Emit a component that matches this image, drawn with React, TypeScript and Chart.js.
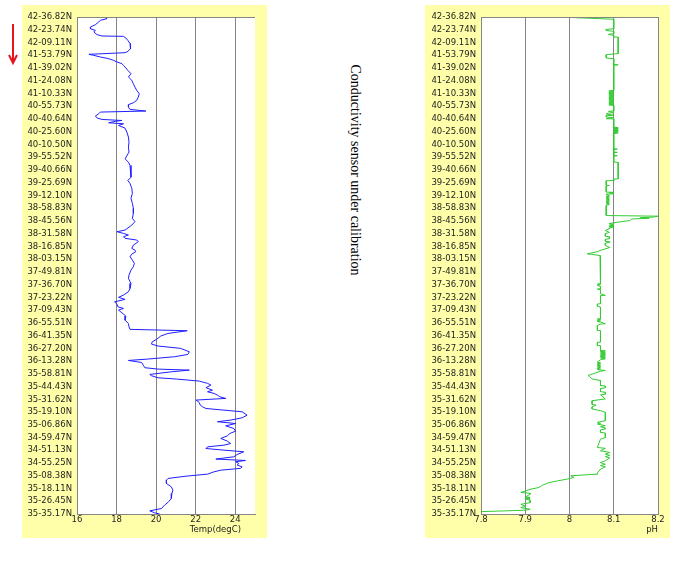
import React, { useEffect, useRef } from "react";
import { Chart, registerables } from "chart.js";

Chart.register(...registerables);

const latLabels = [
  "42-36.82N", "42-23.74N", "42-09.11N", "41-53.79N", "41-39.02N", "41-24.08N", "41-10.33N", "40-55.73N",
  "40-40.64N", "40-25.60N", "40-10.50N", "39-55.52N", "39-40.66N", "39-25.69N", "39-12.10N", "38-58.83N",
  "38-45.56N", "38-31.58N", "38-16.85N", "38-03.15N", "37-49.81N", "37-36.70N", "37-23.22N", "37-09.43N",
  "36-55.51N", "36-41.35N", "36-27.20N", "36-13.28N", "35-58.81N", "35-44.43N", "35-31.62N", "35-19.10N",
  "35-06.86N", "34-59.47N", "34-51.13N", "34-55.25N", "35-08.38N", "35-18.11N", "35-26.45N", "35-35.17N",
];

const tempTicks = [16, 18, 20, 22, 24];
const phTicks = [7.8, 7.9, 8.0, 8.1, 8.2];

// Temperature profile: position along the track (label index) and value (degC)
const tempDepth = [
  0, 0.02, 0.13, 0.26, 0.39, 0.6, 0.79, 0.92, 1.05, 1.18, 1.39, 1.49, 1.52, 1.65, 1.83, 2.09, 2.23, 2.49, 2.7, 2.8,
  2.93, 3.01, 3.14, 3.27, 3.4, 3.53, 3.66, 3.8, 3.93, 4.19, 4.45, 4.71, 4.97, 5.24, 5.5, 5.76, 6.02, 6.28, 6.54, 6.73,
  6.88, 7.07, 7.25, 7.38, 7.46, 7.59, 7.77, 7.93, 8.04, 8.12, 8.19, 8.3, 8.38, 8.51, 8.72, 9.03, 9.42, 9.82, 10.21, 10.6,
  11.13, 11.39, 11.65, 12.17, 12.57, 12.83, 13.06, 13.45, 13.84, 14.23, 14.62, 15.02, 15.41, 15.8, 16.06, 16.33, 16.72, 16.85, 16.98, 17.11,
  17.24, 17.37, 17.5, 17.63, 17.9, 18.16, 18.29, 18.42, 18.6, 18.81, 19.07, 19.33, 19.6, 19.86, 20.25, 20.51, 20.91, 21.3, 21.56, 21.82,
  22.0, 22.16, 22.35, 22.53, 22.74, 22.87, 23.0, 23.21, 23.47, 23.79, 24.05, 24.31, 24.51, 24.62, 24.83, 25.04, 25.3, 25.49, 25.67, 25.82,
  26.0, 26.27, 26.48, 26.66, 26.84, 26.95, 27.11, 27.32, 27.52, 27.63, 27.71, 27.84, 28.05, 28.15, 28.31, 28.41, 28.57, 28.75, 28.88, 29.09,
  29.28, 29.41, 29.54, 29.67, 29.8, 29.93, 30.06, 30.25, 30.45, 30.59, 30.72, 30.85, 30.98, 31.24, 31.45, 31.63, 31.76, 31.9, 32.08, 32.29,
  32.5, 32.68, 32.87, 33.07, 33.28, 33.47, 33.6, 33.73, 33.86, 33.99, 34.12, 34.33, 34.51, 34.69, 34.8, 34.9, 35.03, 35.16, 35.3, 35.42,
  35.56, 35.69, 35.87, 36.03, 36.21, 36.34, 36.6, 36.87, 37.13, 37.39, 37.78, 38.04, 38.3, 38.57, 38.75, 38.91, 39.0,
];
const tempValue = [
  16.0, 17.4, 17.52, 17.18, 17.1, 16.93, 16.68, 16.68, 16.93, 16.85, 17.02, 17.27, 18.35, 18.47, 18.57, 18.68, 18.73, 18.68, 18.57, 18.43,
  16.6, 16.85, 17.18, 17.6, 17.85, 18.02, 18.27, 18.35, 18.43, 18.57, 18.73, 18.6, 18.77, 18.85, 18.93, 19.02, 19.15, 19.1, 19.02, 18.85,
  18.6, 18.6, 18.68, 19.48, 17.18, 17.1, 16.93, 17.02, 17.27, 18.27, 17.93, 17.6, 18.35, 18.1, 18.43, 18.52, 18.6, 18.63, 18.6, 18.63,
  18.43, 18.6, 18.68, 18.73, 18.73, 18.57, 18.68, 18.77, 18.8, 18.73, 18.8, 18.85, 18.85, 18.8, 18.93, 18.77, 18.43, 18.02, 18.35, 18.6,
  18.35, 18.43, 19.02, 19.1, 18.85, 18.77, 18.93, 18.97, 18.77, 18.68, 18.8, 18.9, 18.85, 18.73, 18.63, 18.6, 18.73, 18.68, 18.6, 18.35,
  18.1, 18.43, 17.9, 18.02, 18.07, 18.35, 18.1, 18.27, 18.47, 18.43, 18.6, 18.63, 18.68, 21.57, 20.6, 20.23, 20.02, 19.8, 19.77, 20.1,
  21.23, 21.68, 21.6, 20.93, 19.6, 18.6, 19.27, 19.35, 19.43, 20.1, 21.68, 20.77, 19.68, 19.77, 20.1, 21.02, 22.18, 22.6, 22.77, 22.52,
  22.85, 22.6, 22.93, 23.1, 23.22, 23.52, 22.02, 22.18, 22.23, 22.35, 22.52, 23.43, 24.35, 24.6, 24.35, 23.77, 23.1, 24.02, 23.52, 23.93,
  24.02, 23.73, 23.6, 23.27, 23.6, 23.77, 23.43, 22.6, 22.52, 23.43, 24.43, 24.1, 23.93, 23.02, 24.52, 24.02, 24.18, 24.1, 24.35, 24.27,
  23.27, 22.93, 22.6, 21.52, 20.6, 20.52, 20.52, 20.77, 20.85, 20.8, 20.77, 20.63, 20.43, 20.27, 19.68, 19.93, 20.18,
];

// pH profile
const phDepth = [
  0, 0.18, 0.92, 0.97, 1.05, 1.13, 1.31, 1.36, 1.44, 1.57, 1.58, 2.88, 2.9, 2.96, 3.22, 3.27, 3.74, 3.75, 3.78, 5.76,
  5.8, 5.85, 5.9, 5.95, 6.0, 6.05, 6.1, 6.15, 6.2, 6.25, 6.3, 6.35, 6.4, 6.45, 6.5, 6.55, 6.6, 6.65, 6.7, 6.75,
  6.8, 6.85, 6.9, 6.94, 7.38, 7.4, 7.5, 7.55, 7.62, 7.7, 7.75, 7.85, 7.9, 7.98, 8.0, 8.64, 8.68, 8.72, 8.76, 8.8,
  8.84, 8.88, 8.92, 8.96, 9.0, 9.05, 9.1, 9.16, 10.34, 10.36, 10.4, 10.6, 10.62, 10.66, 10.86, 10.88, 10.92, 11.39, 11.4, 12.7,
  12.72, 12.83, 12.85, 13.2, 13.22, 13.25, 13.74, 13.76, 13.8, 13.87, 13.9, 14.01, 14.06, 14.11, 14.16, 14.21, 14.26, 14.31, 14.36, 14.41,
  14.46, 14.51, 14.56, 14.61, 14.66, 14.71, 14.79, 15.58, 15.63, 15.7, 15.75, 15.79, 15.85, 15.97, 16.1, 16.15, 16.2, 16.28, 16.33, 16.38,
  16.43, 16.48, 16.55, 16.62, 16.75, 16.9, 17.0, 17.2, 17.25, 17.4, 17.45, 17.6, 17.65, 17.75, 17.93, 18.06, 18.1, 18.32, 18.4, 18.59,
  18.62, 18.72, 19.63, 20.93, 20.96, 21.0, 21.06, 21.15, 21.32, 21.35, 21.4, 21.72, 21.85, 21.87, 22.5, 22.52, 22.7, 22.76, 23.68, 23.7,
  23.75, 23.8, 23.85, 23.9, 23.94, 24.07, 24.1, 24.2, 24.59, 24.62, 25.51, 25.53, 25.77, 25.8, 26.17, 26.2, 26.25, 26.3, 26.35, 26.4,
  26.45, 26.5, 26.55, 26.6, 26.65, 26.7, 26.75, 26.82, 26.9, 27.08, 27.12, 27.17, 27.22, 27.27, 27.32, 27.37, 27.42, 27.47, 27.52, 27.57,
  27.62, 27.67, 27.74, 27.8, 28.13, 28.2, 28.4, 28.53, 28.92, 28.95, 29.1, 29.15, 29.4, 29.45, 29.6, 29.65, 29.97, 30.11, 30.4, 30.45,
  30.6, 30.76, 30.89, 31.02, 31.68, 31.81, 31.9, 31.94, 32.07, 32.15, 32.25, 32.33, 32.4, 32.59, 32.65, 33.0, 33.12, 33.78, 33.85, 34.04,
  34.17, 34.3, 34.4, 34.5, 34.6, 34.82, 34.96, 35.1, 35.2, 35.3, 35.48, 35.79, 35.87, 36.0, 36.13, 36.26, 36.4, 36.53, 36.74, 36.92,
  37.05, 37.18, 37.31, 37.37, 37.45, 37.65, 37.7, 37.75, 37.8, 37.85, 37.9, 38.11, 38.24, 38.4, 38.5, 38.63, 38.7, 38.76, 38.81,
];
const phValue = [
  7.98, 8.1, 8.1, 8.083, 8.083, 8.1, 8.1, 8.088, 8.1, 8.1, 8.11, 8.11, 8.1, 8.083, 8.083, 8.1, 8.1, 8.11, 8.1, 8.1,
  8.089, 8.1, 8.089, 8.1, 8.089, 8.1, 8.089, 8.1, 8.089, 8.1, 8.089, 8.1, 8.089, 8.1, 8.089, 8.1, 8.089, 8.1, 8.089, 8.1,
  8.089, 8.1, 8.089, 8.1, 8.1, 8.088, 8.1, 8.088, 8.083, 8.1, 8.083, 8.083, 8.1, 8.083, 8.1, 8.1, 8.11, 8.1, 8.11, 8.1,
  8.11, 8.1, 8.11, 8.1, 8.11, 8.1, 8.11, 8.1, 8.1, 8.108, 8.1, 8.1, 8.108, 8.1, 8.1, 8.108, 8.1, 8.1, 8.11, 8.11,
  8.1, 8.1, 8.083, 8.083, 8.09, 8.083, 8.083, 8.1, 8.09, 8.1, 8.083, 8.09, 8.083, 8.09, 8.083, 8.09, 8.083, 8.09, 8.083, 8.09,
  8.083, 8.09, 8.083, 8.09, 8.083, 8.09, 8.083, 8.083, 8.2, 8.19, 8.16, 8.18, 8.14, 8.137, 8.11, 8.1, 8.09, 8.1, 8.09, 8.1,
  8.09, 8.1, 8.09, 8.09, 8.081, 8.09, 8.081, 8.081, 8.09, 8.09, 8.081, 8.081, 8.092, 8.081, 8.081, 8.09, 8.09, 8.069, 8.065, 8.04,
  8.05, 8.069, 8.07, 8.07, 8.063, 8.07, 8.063, 8.07, 8.07, 8.063, 8.07, 8.07, 8.081, 8.07, 8.07, 8.063, 8.063, 8.07, 8.07, 8.063,
  8.07, 8.063, 8.07, 8.063, 8.07, 8.081, 8.07, 8.063, 8.063, 8.07, 8.07, 8.063, 8.063, 8.07, 8.07, 8.081, 8.07, 8.081, 8.07, 8.081,
  8.07, 8.081, 8.07, 8.081, 8.07, 8.081, 8.07, 8.081, 8.07, 8.063, 8.07, 8.063, 8.07, 8.063, 8.07, 8.063, 8.07, 8.063, 8.07, 8.063,
  8.07, 8.063, 8.081, 8.07, 8.042, 8.045, 8.051, 8.07, 8.07, 8.081, 8.081, 8.07, 8.07, 8.081, 8.081, 8.07, 8.081, 8.051, 8.051, 8.06,
  8.051, 8.051, 8.07, 8.081, 8.081, 8.063, 8.07, 8.063, 8.081, 8.07, 8.081, 8.081, 8.07, 8.07, 8.081, 8.081, 8.07, 8.063, 8.081, 8.07,
  8.091, 8.081, 8.091, 8.081, 8.091, 8.081, 8.07, 8.081, 8.07, 8.081, 8.07, 8.063, 8.063, 8.003, 8.01, 7.995, 7.973, 7.954, 7.939, 7.931,
  7.913, 7.901, 7.89, 7.911, 7.911, 7.901, 7.911, 7.901, 7.911, 7.901, 7.911, 7.911, 7.89, 7.901, 7.89, 7.911, 7.9, 7.85, 7.802,
];

const TICK_FONT = { family: "'DejaVu Sans', sans-serif", size: 8.5 };
const TEXT_COLOR = "#1e1e1e";
const GRID_COLOR = "#858585";

type ProfileProps = {
  depth: number[];
  values: number[];
  color: string;
  min: number;
  max: number;
  ticks: number[];
  title: string;
  titleInset: number;
  axisWidth: number;
  fmt: (v: number) => string;
};

function Profile(p: ProfileProps) {
  const ref = useRef<HTMLCanvasElement>(null);
  useEffect(() => {
    if (!ref.current) return;
    const panelPlugin = {
      id: "panel",
      beforeDraw(chart: any) {
        const { ctx, chartArea: a } = chart;
        ctx.save();
        ctx.fillStyle = "#ffffff";
        ctx.fillRect(a.left, a.top, a.right - a.left, a.bottom - a.top);
        ctx.restore();
      },
      afterDraw(chart: any) {
        const { ctx, chartArea: a } = chart;
        ctx.save();
        ctx.strokeStyle = GRID_COLOR;
        ctx.lineWidth = 1;
        ctx.beginPath();
        ctx.moveTo(a.left, a.top + 0.5);
        ctx.lineTo(a.right, a.top + 0.5);
        ctx.stroke();
        ctx.fillStyle = TEXT_COLOR;
        ctx.font = `${TICK_FONT.size}px ${TICK_FONT.family}`;
        ctx.textAlign = "right";
        ctx.textBaseline = "middle";
        ctx.fillText(p.title, a.right - p.titleInset, a.bottom + 15.5);
        ctx.restore();
      },
    };
    const chart = new Chart(ref.current, {
      type: "line",
      data: {
        datasets: [
          {
            data: p.depth.map((d, i) => ({ x: p.values[i], y: d })),
            borderColor: p.color,
            borderWidth: 1,
            pointRadius: 0,
            tension: 0,
            fill: false,
          },
        ],
      },
      options: {
        animation: false,
        responsive: false,
        indexAxis: "y",
        layout: { padding: { top: 12, right: 12, left: 0, bottom: 0 } },
        plugins: { legend: { display: false }, tooltip: { enabled: false } },
        scales: {
          x: {
            type: "linear",
            min: p.min,
            max: p.max,
            afterBuildTicks: (s: any) => {
              s.ticks = p.ticks.map((v) => ({ value: v }));
            },
            afterFit: (s: any) => {
              s.height = 24;
            },
            grid: { color: GRID_COLOR, drawTicks: false, lineWidth: 1 },
            border: { color: GRID_COLOR, width: 1 },
            ticks: {
              autoSkip: false,
              maxRotation: 0,
              padding: 1,
              color: TEXT_COLOR,
              font: TICK_FONT,
              callback: (v: any) => p.fmt(Number(v)),
            },
          },
          y: {
            type: "linear",
            min: 0,
            max: latLabels.length - 1,
            reverse: true,
            afterBuildTicks: (s: any) => {
              s.ticks = latLabels.map((_, i) => ({ value: i }));
            },
            afterFit: (s: any) => {
              s.width = p.axisWidth;
            },
            grid: { display: false, drawTicks: false },
            border: { color: GRID_COLOR, width: 1 },
            ticks: {
              autoSkip: false,
              padding: 5,
              color: TEXT_COLOR,
              font: TICK_FONT,
              callback: (v: any) => latLabels[Math.round(Number(v))],
            },
          },
        },
      } as any,
      plugins: [panelPlugin],
    });
    return () => chart.destroy();
  }, []);
  return (
    <canvas
      ref={ref}
      width={245}
      height={533}
      style={{ display: "block", width: 245, height: 533, background: "#ffffaa" }}
    />
  );
}

export default function App() {
  return (
    <div style={{ position: "absolute", left: 0, top: 0, width: 677, height: 563, background: "#ffffff" }}>
      <svg style={{ position: "absolute", left: 0, top: 0 }} width={30} height={70}>
        <line x1={13} y1={24} x2={13} y2={62} stroke="#e8141c" strokeWidth={2} />
        <polyline points="9,55 13,63 17,55" fill="none" stroke="#e8141c" strokeWidth={2} />
      </svg>
      <div style={{ position: "absolute", left: 22, top: 5 }}>
        <Profile
          depth={tempDepth}
          values={tempValue}
          color="#1f1fff"
          min={16}
          max={25}
          ticks={tempTicks}
          title="Temp(degC)"
          titleInset={14}
          axisWidth={55}
          fmt={(v) => String(v)}
        />
      </div>
      <div
        style={{
          position: "absolute",
          left: 355,
          top: 170,
          transform: "translate(-50%, -50%) rotate(90deg)",
          whiteSpace: "nowrap",
          fontFamily: "'Liberation Serif', 'Times New Roman', serif",
          fontSize: 14,
          color: "#000",
        }}
      >
        Conductivity sensor under calibration
      </div>
      <div style={{ position: "absolute", left: 425, top: 5 }}>
        <Profile
          depth={phDepth}
          values={phValue}
          color="#33cc33"
          min={7.8}
          max={8.2}
          ticks={phTicks}
          title="pH"
          titleInset={0}
          axisWidth={56}
          fmt={(v) => String(Math.round(v * 10) / 10)}
        />
      </div>
    </div>
  );
}
